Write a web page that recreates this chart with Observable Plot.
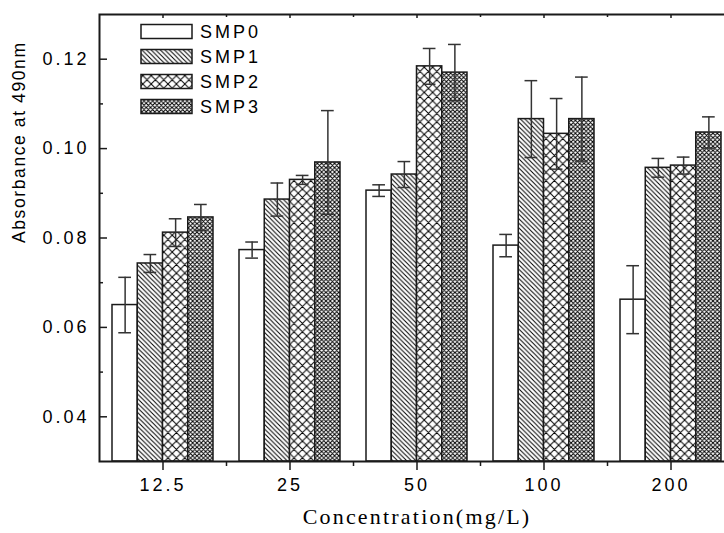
<!DOCTYPE html>
<html><head><meta charset="utf-8">
<script src="https://cdn.jsdelivr.net/npm/d3@7"></script>
<script src="https://cdn.jsdelivr.net/npm/@observablehq/plot@0.6"></script>
<style>body{margin:0;background:#fff} #chart{width:724px;height:533px;overflow:hidden;position:relative}</style>
</head><body><div id="chart"></div>
<script>
const categories = ["12.5", "25", "50", "100", "200"];
const seriesNames = ["SMP0", "SMP1", "SMP2", "SMP3"];
const smp0 = [0.0650, 0.0773, 0.0906, 0.0783, 0.0662];
const smp0Err = [0.0062, 0.0018, 0.0013, 0.0025, 0.0076];
const smp1 = [0.0743, 0.0886, 0.0942, 0.1066, 0.0957];
const smp1Err = [0.0020, 0.0037, 0.0029, 0.0086, 0.0021];
const smp2 = [0.0812, 0.0930, 0.1184, 0.1033, 0.0962];
const smp2Err = [0.0031, 0.0010, 0.0040, 0.0079, 0.0019];
const smp3 = [0.0846, 0.0969, 0.1170, 0.1066, 0.1036];
const smp3Err = [0.0029, 0.0116, 0.0063, 0.0094, 0.0035];
const yMajorTicks = [0.04, 0.06, 0.08, 0.10, 0.12];
const yMinorTicks = [0.05, 0.07, 0.09, 0.11];
const yDomain = [0.03, 0.13];
const xTitle = "Concentration(mg/L)";
const yTitle = "Absorbance at 490nm";

const values = [smp0, smp1, smp2, smp3];
const errors = [smp0Err, smp1Err, smp2Err, smp3Err];
const rows = seriesNames.map((s, i) => categories.map((c, j) => ({cat: c, series: s, value: values[i][j], err: errors[i][j]})));

const W = 724, H = 533, mL = 99, mR = -10, mT = 14, mB = 72;
const frameW = W - mL - mR, frameH = H - mT - mB;
const step = frameW / categories.length;
const barW = 25.25;
const inset = (step - barW) / 2;
const capW = 12.7;
const capInset = (step - capW) / 2;
const ink = "#1a1a1a";
const sans = "'Liberation Sans', Arial, sans-serif";

const marks = [];
seriesNames.forEach((s, i) => {
  const dx = (i - 1.5) * barW;
  marks.push(Plot.barY(rows[i], {x: "cat", y1: yDomain[0], y2: "value", fill: `url(#pat${i})`, stroke: ink, strokeWidth: 1.5, insetLeft: inset, insetRight: inset, dx}));
});
seriesNames.forEach((s, i) => {
  const dx = (i - 1.5) * barW;
  marks.push(Plot.ruleX(rows[i], {x: "cat", y1: d => d.value - d.err, y2: d => d.value + d.err, dx, stroke: "#333", strokeWidth: 1.5}));
  marks.push(Plot.tickY(rows[i], {x: "cat", y: d => d.value + d.err, dx, stroke: "#333", strokeWidth: 1.5, insetLeft: capInset, insetRight: capInset}));
  marks.push(Plot.tickY(rows[i], {x: "cat", y: d => d.value - d.err, dx, stroke: "#333", strokeWidth: 1.5, insetLeft: capInset, insetRight: capInset}));
});
// y ticks (inward)
marks.push(Plot.tickY(yMajorTicks, {y: d => d, insetRight: frameW - 8, stroke: ink, strokeWidth: 1.5}));
marks.push(Plot.tickY(yMinorTicks, {y: d => d, insetRight: frameW - 4, stroke: ink, strokeWidth: 1.5}));
// top ticks (inward)
marks.push(Plot.tickX(categories, {x: d => d, insetBottom: frameH - 4, stroke: ink, strokeWidth: 1.5}));
marks.push(Plot.tickX(categories, {x: d => d, dx: step / 2, insetBottom: frameH - 3, stroke: ink, strokeWidth: 1.5}));
// axes
marks.push(Plot.axisY(yMajorTicks, {tickSize: 0, tickPadding: 10, tickFormat: d3.format(".2f"), label: null, fontSize: 18}));
marks.push(Plot.axisX({tickSize: 9, tickPadding: 8, label: null, stroke: ink, strokeWidth: 1.5, fontSize: 18}));
marks.push(Plot.axisX({tickSize: 5, dx: step / 2, tickFormat: () => "", label: null, stroke: ink, strokeWidth: 1.5}));
marks.push(Plot.frame({stroke: ink, strokeWidth: 2}));
marks.push(Plot.text([yTitle], {text: d => d, frameAnchor: "left", rotate: -90, dx: -80, dy: 5, fontSize: 17.5, fontFamily: sans}));
marks.push(Plot.text([xTitle], {text: d => d, frameAnchor: "bottom", dy: 62, fontSize: 22, fontFamily: "'Liberation Serif', 'Times New Roman', serif"}));

const svg = Plot.plot({
  width: W, height: H,
  marginLeft: mL, marginRight: mR, marginTop: mT, marginBottom: mB,
  style: {fontFamily: sans, fontSize: "18px", color: "black", background: "white", overflow: "hidden"},
  x: {type: "band", domain: categories, padding: 0, label: null, axis: null},
  y: {domain: yDomain, label: null, axis: null},
  marks
});

function diag(p, both) {
  let d = `M-1,-1L${p + 1},${p + 1}M-1,${p - 1}L1,${p + 1}M${p - 1},-1L${p + 1},1`;
  if (both) d += `M-1,${p + 1}L${p + 1},-1M-1,1L1,-1M${p - 1},${p + 1}L${p + 1},${p - 1}`;
  return d;
}
function pat(id, p, path) {
  return `<pattern id="${id}" patternUnits="userSpaceOnUse" width="${p}" height="${p}"><rect width="${p}" height="${p}" fill="white"/>` +
    (path ? `<path d="${path}" stroke="black" stroke-width="1" fill="none"/>` : "") + `</pattern>`;
}
const defs = d3.select(svg).insert("defs", ":first-child");
defs.html(pat("pat0", 6, null) + pat("pat1", 4.6, diag(4.6, false)) + pat("pat2", 8.4, diag(8.4, true)) + pat("pat3", 4.3, diag(4.3, true)));

// letter spacing for tick labels and titles
d3.select(svg).selectAll("g[aria-label='y-axis tick label'] text, g[aria-label='x-axis tick label'] text").attr("letter-spacing", "3px");
d3.select(svg).selectAll("g[aria-label='text'] text").each(function() {
  const t = this.textContent;
  d3.select(this).attr("letter-spacing", t === xTitle ? "2.2px" : "1.6px");
});

// legend
const leg = d3.select(svg).append("g").attr("class", "legend");
seriesNames.forEach((s, i) => {
  const y = 24.5 + i * 25;
  leg.append("rect").attr("x", 141).attr("y", y).attr("width", 51).attr("height", 14)
    .attr("fill", `url(#pat${i})`).attr("stroke", ink).attr("stroke-width", 1.5);
  leg.append("text").attr("x", 200).attr("y", y + 7).attr("dy", "0.36em").attr("text-anchor", "start")
    .attr("font-family", sans).attr("font-size", 18).attr("letter-spacing", "3px").attr("fill", "black").text(s);
});

document.getElementById("chart").appendChild(svg);
</script>
</body></html>
